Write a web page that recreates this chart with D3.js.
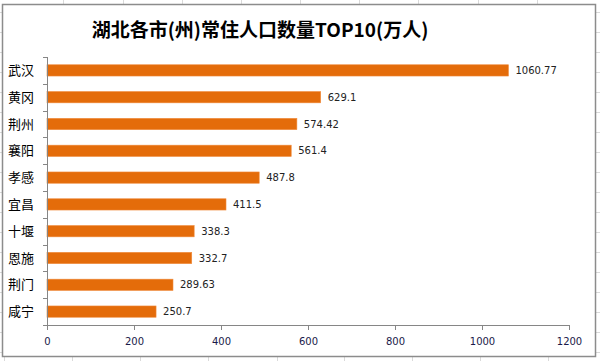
<!DOCTYPE html>
<html lang="zh">
<head>
<meta charset="UTF-8">
<script src="https://d3js.org/d3.v7.min.js"></script>
<style>
  body { margin: 0; background: #fff; }
  svg { display: block; }
</style>
</head>
<body>
<div id="chart"></div>
<script>
const title = "湖北各市(州)常住人口数量TOP10(万人)";
const cities = ["武汉", "黄冈", "荆州", "襄阳", "孝感", "宜昌", "十堰", "恩施", "荆门", "咸宁"];
const population = [1060.77, 629.1, 574.42, 561.4, 487.8, 411.5, 338.3, 332.7, 289.63, 250.7];
const labels = ["1060.77", "629.1", "574.42", "561.4", "487.8", "411.5", "338.3", "332.7", "289.63", "250.7"];
const xTicks = [0, 200, 400, 600, 800, 1000, 1200];

const width = 600, height = 361;
const svg = d3.select("#chart").append("svg")
    .attr("width", width)
    .attr("height", height);

// spreadsheet cells behind the chart
const grid = svg.append("g").attr("stroke", "#dadada").attr("stroke-width", 1);
[63, 123, 182, 241, 300, 359, 418, 478, 537].forEach(x => {
    grid.append("line").attr("x1", x + 0.5).attr("x2", x + 0.5).attr("y1", 0).attr("y2", 4);
});
[4, 72, 140, 208, 277, 344, 412, 480, 548].forEach(x => {
    grid.append("line").attr("x1", x + 0.5).attr("x2", x + 0.5).attr("y1", 357).attr("y2", height);
});
d3.range(12, 361, 20).forEach(y => {
    grid.append("line").attr("x1", 0).attr("x2", 2).attr("y1", y + 0.5).attr("y2", y + 0.5);
    grid.append("line").attr("x1", 596).attr("x2", width).attr("y1", y + 0.5).attr("y2", y + 0.5);
});

// chart frame
svg.append("rect")
    .attr("x", 2.5).attr("y", 4.5)
    .attr("width", 593).attr("height", 352)
    .attr("fill", "#fff")
    .attr("stroke", "#8c8c8c")
    .attr("stroke-width", 1.5);

svg.append("text")
    .attr("x", 260)
    .attr("y", 37)
    .attr("text-anchor", "middle")
    .attr("font-family", "'Noto Sans CJK SC', sans-serif")
    .attr("font-weight", "bold")
    .attr("font-size", 19)
    .attr("fill", "#000")
    .text(title);

const x = d3.scaleLinear().domain([0, 1200]).range([47, 569]);
const y = d3.scaleBand().domain(cities).range([57, 325]).paddingInner(0.58).paddingOuter(0.29);

// bars
svg.append("g").selectAll("rect")
    .data(cities)
    .join("rect")
    .attr("x", x(0))
    .attr("y", d => y(d))
    .attr("width", (d, i) => x(population[i]) - x(0))
    .attr("height", y.bandwidth())
    .attr("fill", "#e46c0a")
    .attr("stroke", "#f08a3a")
    .attr("stroke-width", 0.6);

// value labels
svg.append("g").selectAll("text")
    .data(cities)
    .join("text")
    .attr("x", (d, i) => x(population[i]) + 7)
    .attr("y", d => y(d) + y.bandwidth() / 2)
    .attr("dy", "0.35em")
    .attr("font-family", "'DejaVu Sans', sans-serif")
    .attr("font-size", 10)
    .attr("fill", "#222")
    .text((d, i) => labels[i]);

// x axis
const xAxis = svg.append("g")
    .attr("transform", "translate(0,325)")
    .call(d3.axisBottom(x).tickValues(xTicks).tickFormat(d3.format("d"))
        .tickSize(5).tickSizeOuter(0).tickPadding(8));
xAxis.select(".domain").attr("stroke", "#868686");
xAxis.selectAll(".tick line").attr("stroke", "#868686");
xAxis.selectAll("text")
    .attr("font-family", "'DejaVu Sans', sans-serif")
    .attr("font-size", 10)
    .attr("fill", "#1a1a4a");

// y axis: ticks on band boundaries
const yAxisG = svg.append("g");
yAxisG.append("line")
    .attr("x1", x(0) + 0.5).attr("x2", x(0) + 0.5)
    .attr("y1", 57).attr("y2", 325)
    .attr("stroke", "#868686");
const bounds = cities.map(c => y(c) - y.step() * y.paddingInner() / 2).concat([325]);
yAxisG.selectAll("line.tk")
    .data(bounds)
    .join("line")
    .attr("class", "tk")
    .attr("x1", x(0) - 4).attr("x2", x(0))
    .attr("y1", d => Math.round(d) + 0.5).attr("y2", d => Math.round(d) + 0.5)
    .attr("stroke", "#868686");
yAxisG.selectAll("text")
    .data(cities)
    .join("text")
    .attr("x", 34)
    .attr("y", d => y(d) + y.bandwidth() / 2)
    .attr("dy", "0.36em")
    .attr("text-anchor", "end")
    .attr("font-family", "'Noto Sans CJK SC', sans-serif")
    .attr("font-size", 13)
    .attr("fill", "#000")
    .text(d => d);
</script>
</body>
</html>
